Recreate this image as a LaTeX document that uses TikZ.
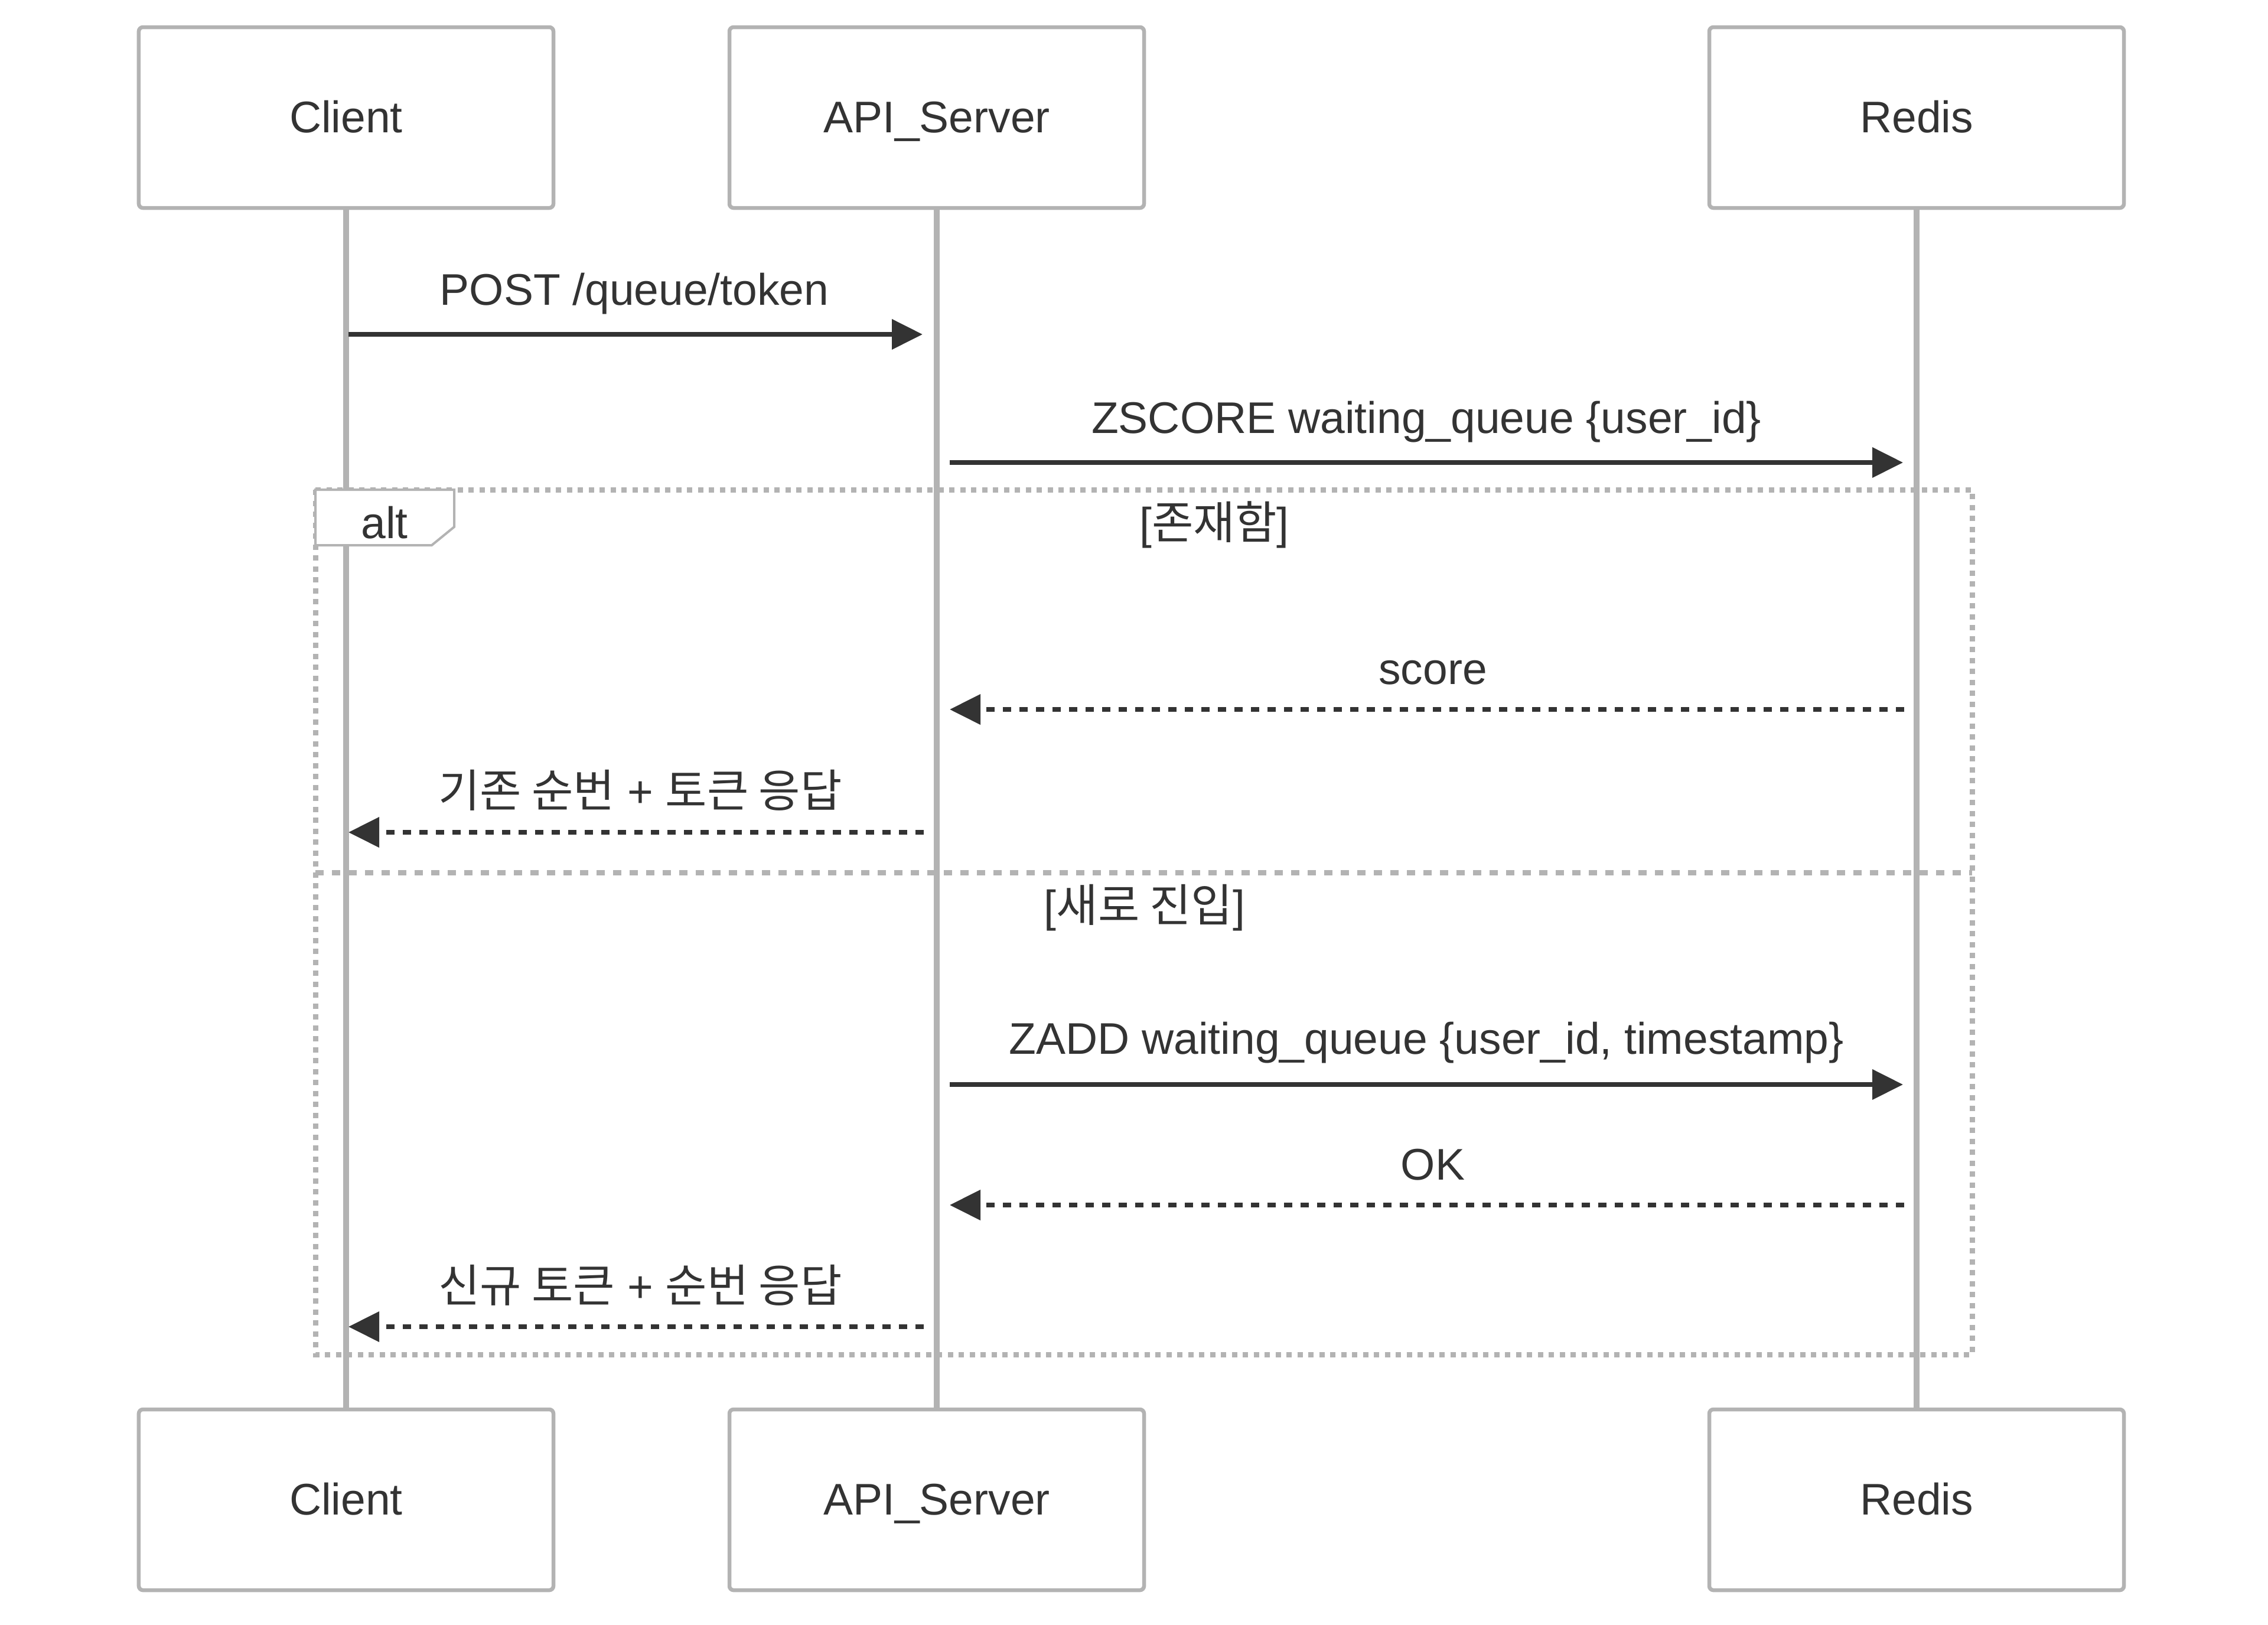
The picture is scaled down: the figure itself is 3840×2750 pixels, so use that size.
\documentclass[tikz,border=0pt]{standalone}
\usepackage{fontspec}
\setmainfont{Liberation Sans}
\newfontfamily\krfont[Scale=1.02]{Noto Sans CJK KR}
\usetikzlibrary{arrows.meta}
\definecolor{ink}{HTML}{333333}
\definecolor{lgray}{HTML}{B3B3B3}
\newcommand{\K}[1]{{\krfont #1}}
\begin{document}
\begin{tikzpicture}[x=0.2pt,y=-0.2pt,
  actorbox/.style={draw=lgray, line width=1.3pt, fill=white, rounded corners=1.4pt,
    minimum width=140.4pt, minimum height=61.2pt, inner sep=0pt},
  lifeline/.style={draw=lgray, line width=1.85pt},
  txt/.style={text=ink, font=\fontsize{15pt}{17pt}\selectfont, inner sep=0pt, anchor=base},
  msg/.style={draw=ink, line width=1.5pt, -{Triangle[length=10.4pt,width=10pt]}},
  reply/.style={msg, dash pattern=on 2.8pt off 2.8pt},
  framebox/.style={draw=lgray, line width=1.8pt, dash pattern=on 1.8pt off 1.9pt},
  sepline/.style={draw=lgray, line width=1.8pt, dash pattern=on 2.8pt off 2.8pt},
  altlabel/.style={draw=lgray, line width=0.8pt, fill=white}]
\useasboundingbox (0,0) rectangle (3840,2750);
\fill[white] (0,0) rectangle (3840,2750);

% actor boxes
\node[actorbox] (ct) at (586,199) {};
\node[actorbox] (at) at (1586,199) {};
\node[actorbox] (rt) at (3245,199) {};
\node[actorbox] (cb) at (586,2539) {};
\node[actorbox] (ab) at (1586,2539) {};
\node[actorbox] (rb) at (3245,2539) {};
\node[txt] (ctl) at (586,224) {Client};
\node[txt] (atl) at (1586,224) {API\_Server};
\node[txt] (rtl) at (3245,224) {Redis};
\node[txt] (cbl) at (586,2564) {Client};
\node[txt] (abl) at (1586,2564) {API\_Server};
\node[txt] (rbl) at (3245,2564) {Redis};

% lifelines
\draw[lifeline] (ct.south) -- (cb.north);
\draw[lifeline] (at.south) -- (ab.north);
\draw[lifeline] (rt.south) -- (rb.north);

% alt frame
\draw[framebox] (534,829) rectangle (3339,2293);
\coordinate (sepL) at (534,1477);
\coordinate (sepR) at (3339,1477);
\draw[sepline] (sepL) -- (sepR);
\draw[altlabel] (534,829) -- (769,829) -- (769,892) -- (731,923) -- (534,923) -- cycle;
\node[txt] (altt) at (651,911) {alt};
\node[txt] (g1) at (2056,912) {[\K{존재함}]};
\node[txt] (g2) at (1938,1560) {[\K{새로 진입}]};

% messages
\coordinate (m1s) at (590,566);  \coordinate (m1e) at (1562,566);
\draw[msg] (m1s) -- (m1e);
\node[txt] (m1t) at (1074,516) {POST /queue/token};

\coordinate (m2s) at (1608,783); \coordinate (m2e) at (3222,783);
\draw[msg] (m2s) -- (m2e);
\node[txt] (m2t) at (2415,733) {ZSCORE waiting\_queue \{user\_id\}};

\coordinate (m3s) at (3224,1201); \coordinate (m3e) at (1608,1201);
\draw[reply] (m3s) -- (m3e);
\node[txt] (m3t) at (2426,1158) {score};

\coordinate (m4s) at (1564,1409); \coordinate (m4e) at (590,1409);
\draw[reply] (m4s) -- (m4e);
\node[txt] (m4t) at (1084,1366) {\K{기존 순번} + \K{토큰 응답}};

\coordinate (m5s) at (1608,1836); \coordinate (m5e) at (3222,1836);
\draw[msg] (m5s) -- (m5e);
\node[txt] (m5t) at (2415,1784) {ZADD waiting\_queue \{user\_id, timestamp\}};

\coordinate (m6s) at (3224,2040); \coordinate (m6e) at (1608,2040);
\draw[reply] (m6s) -- (m6e);
\node[txt] (m6t) at (2426,1997) {OK};

\coordinate (m7s) at (1564,2246); \coordinate (m7e) at (590,2246);
\draw[reply] (m7s) -- (m7e);
\node[txt] (m7t) at (1084,2204) {\K{신규 토큰} + \K{순번 응답}};
\end{tikzpicture}
\end{document}
